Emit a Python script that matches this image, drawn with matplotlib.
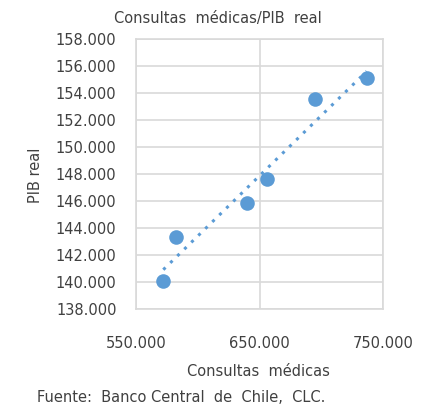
import matplotlib
matplotlib.use("Agg")
import matplotlib.pyplot as plt
import numpy as np
from matplotlib.ticker import FuncFormatter, MultipleLocator, FixedLocator

consultas = [572100, 582400, 640100, 656300, 694900, 736800]
pib = [140120, 143380, 145900, 147650, 153560, 155160]
xticks = [550000, 650000, 750000]
title = "Consultas  médicas/PIB  real"
xlabel = "Consultas  médicas"
ylabel = "PIB real"
source = "Fuente:  Banco Central  de  Chile,  CLC."

plt.rcParams['font.family'] = ['DejaVu Sans']
fig = plt.figure(figsize=(4.32, 4.05), dpi=100)
ax = fig.add_axes([136/432, 1-309.3/405, (383-136)/432, (309.3-39.3)/405])

color = '#5B9BD5'
ax.scatter(consultas, pib, s=110, color=color, zorder=3, linewidths=0)
coef = np.polyfit(consultas, pib, 1)
xs = np.array([min(consultas), max(consultas)])
ax.plot(xs, np.polyval(coef, xs), linestyle=(0, (1, 2.2)), linewidth=2.2, color=color, zorder=2)

ax.set_xlim(550000, 750000)
ax.set_ylim(138000, 158000)
ax.xaxis.set_major_locator(FixedLocator(xticks))
ax.yaxis.set_major_locator(MultipleLocator(2000))
fmt = FuncFormatter(lambda v, p: f"{int(round(v)):,}".replace(",", "."))
ax.xaxis.set_major_formatter(fmt)
ax.yaxis.set_major_formatter(fmt)
ax.grid(True, color='#D9D9D9', linewidth=1.2, zorder=0)
ax.set_axisbelow(True)
for s in ax.spines.values():
    s.set_color('#D9D9D9')
    s.set_linewidth(1.2)
ax.tick_params(length=0, labelsize=10.5, colors='#404040')
ax.tick_params(axis='x', pad=19)
ax.tick_params(axis='y', pad=14)

fig.text(218/432, 1-18/405, title, ha='center', va='center', fontsize=10.5, color='#404040')
fig.text(258/432, 1-371/405, xlabel, ha='center', va='center', fontsize=10.5, color='#404040')
fig.text(35/432, 1-175/405, ylabel, ha='center', va='center', rotation=90, fontsize=10.5, color='#404040')
fig.text(37/432, 1-398/405, source, ha='left', va='center', fontsize=10.5, color='#404040')

fig.savefig("out.png", dpi=100)
